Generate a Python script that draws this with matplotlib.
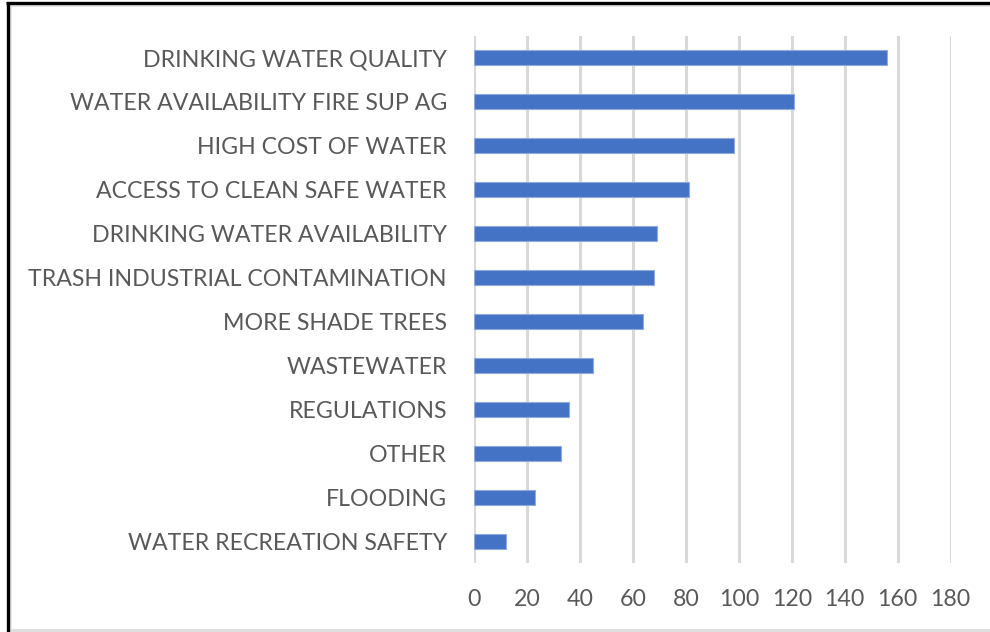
import matplotlib
matplotlib.use("Agg")
import matplotlib.pyplot as plt
from matplotlib.lines import Line2D

categories = [
    "DRINKING WATER QUALITY",
    "WATER AVAILABILITY FIRE SUP AG",
    "HIGH COST OF WATER",
    "ACCESS TO CLEAN SAFE WATER",
    "DRINKING WATER AVAILABILITY",
    "TRASH INDUSTRIAL CONTAMINATION",
    "MORE SHADE TREES",
    "WASTEWATER",
    "REGULATIONS",
    "OTHER",
    "FLOODING",
    "WATER RECREATION SAFETY",
]
counts = [156, 121, 98, 81, 69, 68, 64, 45, 36, 33, 23, 12]
x_ticks = [0, 20, 40, 60, 80, 100, 120, 140, 160, 180]

plt.rcParams["font.family"] = ["Lato", "DejaVu Sans"]
text_color = "#595959"

W, H = 990, 632
fig = plt.figure(figsize=(W / 100, H / 100), dpi=100)
ax = fig.add_axes([474 / W, 1 - 563 / H, (950.7 - 474) / W, (563 - 36) / H])

y = list(range(len(categories)))
ax.barh(y, counts, height=0.34, color="#4472C4", edgecolor="#8FAADC",
        linewidth=0.8, zorder=3)

ax.set_ylim(len(categories) - 0.5, -0.5)
ax.set_xlim(0, 180)
ax.set_yticks(y)
ax.set_yticklabels(categories, fontsize=16.7, color=text_color)
ax.set_xticks(x_ticks)
ax.set_xticklabels([str(t) for t in x_ticks], fontsize=16.7, color=text_color)
ax.tick_params(axis="y", length=0, pad=19.5)
ax.tick_params(axis="x", length=0, pad=19)
ax.grid(axis="x", color="#D9D9D9", linewidth=2.2, zorder=0)
for s in ax.spines.values():
    s.set_visible(False)

# chart frame
def px_line(x0, y0, x1, y1, color, lw):
    fig.add_artist(Line2D([x0 / W, x1 / W], [1 - y0 / H, 1 - y1 / H],
                          color=color, linewidth=lw, transform=fig.transFigure,
                          solid_capstyle="butt"))

px_line(10, 5.5, W, 5.5, "#E2E2E2", 1.2)
px_line(10.5, 5, 10.5, 629, "#E2E2E2", 1.2)
px_line(9, 630, W, 630, "#DDDDDD", 2.0)
px_line(6, 2.5, W, 2.5, "black", 2.4)
px_line(7.5, 1.5, 7.5, H, "black", 2.4)

fig.savefig("out.png", dpi=100, facecolor="white")
